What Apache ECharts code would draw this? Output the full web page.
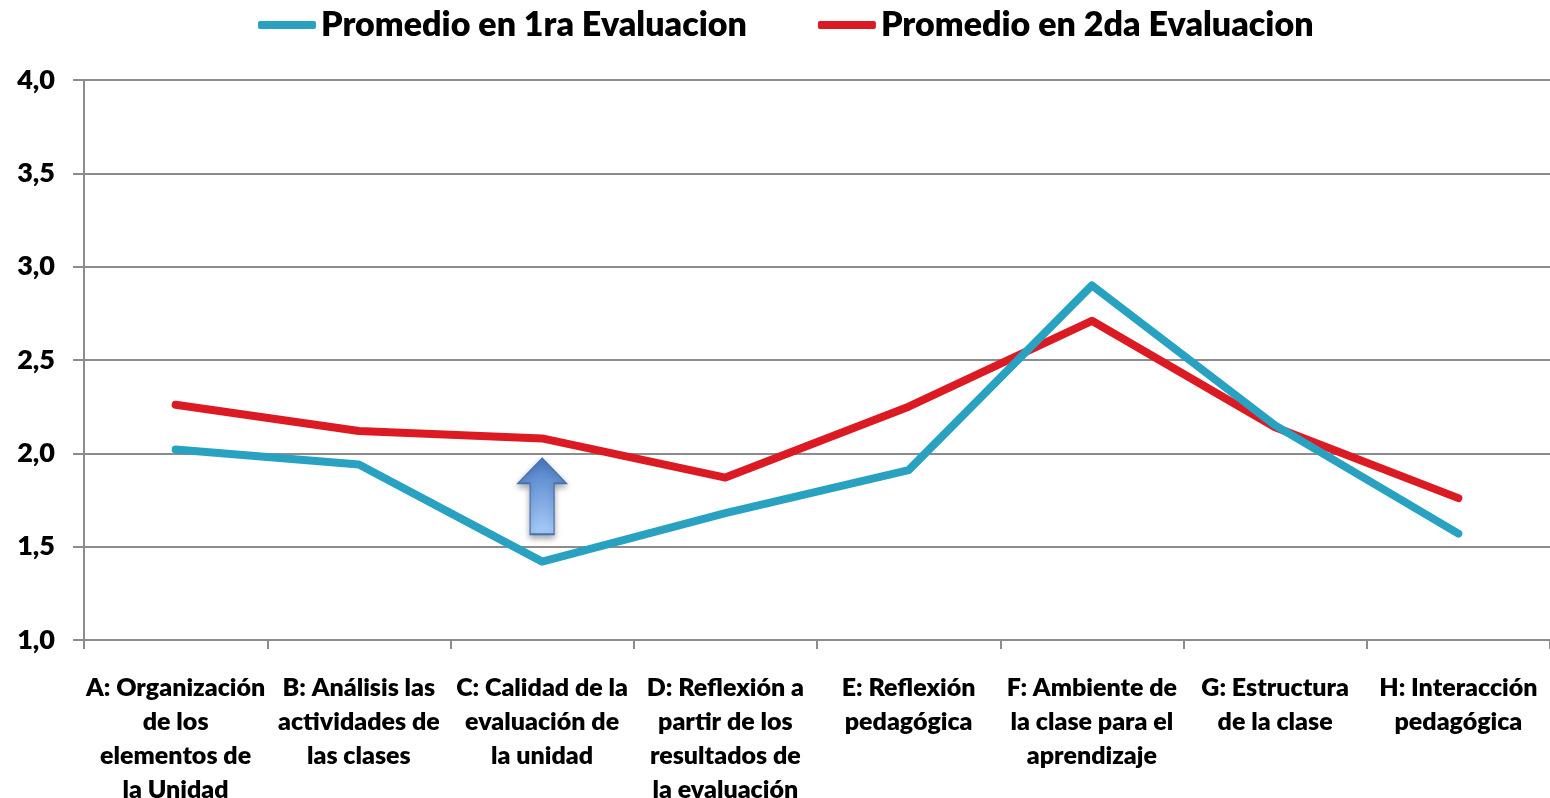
<!DOCTYPE html>
<html>
<head>
<meta charset="utf-8">
<script src="https://cdn.jsdelivr.net/npm/echarts@6/dist/echarts.min.js"></script>
<style>
  html, body { margin: 0; padding: 0; background: #fff; }
  #chart { width: 1550px; height: 798px; }
</style>
</head>
<body>
<div id="chart"></div>
<script>
var categories = [
    'A: Organización\nde los\nelementos de\nla Unidad',
    'B: Análisis las\nactividades de\nlas clases',
    'C: Calidad de la\nevaluación de\nla unidad',
    'D: Reflexión a\npartir de los\nresultados de\nla evaluación',
    'E: Reflexión\npedagógica',
    'F: Ambiente de\nla clase para el\naprendizaje',
    'G: Estructura\nde la clase',
    'H: Interacción\npedagógica'
];
var seriesNames = ['Promedio en 1ra Evaluacion', 'Promedio en 2da Evaluacion'];
var eval1 = [2.02, 1.94, 1.42, 1.68, 1.91, 2.90, 2.15, 1.57];
var eval2 = [2.26, 2.12, 2.08, 1.87, 2.25, 2.71, 2.14, 1.76];
var yTicks = [1.0, 1.5, 2.0, 2.5, 3.0, 3.5, 4.0];
// up arrow drawn over category C
var arrowAt = [2, 1.77];

var font = 'Lato, "Open Sans", sans-serif';
var weight = 800;

function initializeChart() {
    var dom = document.getElementById('chart');
    var myChart = echarts.init(dom);

    var option = {
        animation: false,
        legend: {
            top: 8,
            left: 258,
            padding: 0,
            itemGap: 71,
            itemWidth: 58,
            itemHeight: 8,
            icon: 'roundRect',
            textStyle: { fontFamily: font, fontWeight: weight, fontSize: 34, color: '#000' },
            data: seriesNames
        },
        grid: { left: 84, right: 0, top: 80, bottom: 158, outerBoundsMode: 'none', containLabel: false },
        xAxis: {
            type: 'category',
            data: categories,
            boundaryGap: true,
            axisLine: { lineStyle: { color: '#8c8c8c', width: 2 } },
            axisTick: { show: true, length: 9, lineStyle: { color: '#8c8c8c', width: 2 } },
            axisLabel: {
                interval: 0,
                margin: 31,
                color: '#000',
                fontFamily: font,
                fontWeight: weight,
                fontSize: 25,
                lineHeight: 34
            }
        },
        yAxis: {
            type: 'value',
            min: yTicks[0],
            max: yTicks[yTicks.length - 1],
            interval: 0.5,
            axisLine: { show: true, lineStyle: { color: '#8c8c8c', width: 2 } },
            axisTick: { show: true, length: 11, lineStyle: { color: '#8c8c8c', width: 2 } },
            splitLine: { lineStyle: { color: '#8c8c8c', width: 2 } },
            axisLabel: {
                margin: 29,
                color: '#000',
                fontFamily: font,
                fontWeight: weight,
                fontSize: 27,
                formatter: function (v) { return v.toFixed(1).replace('.', ','); }
            }
        },
        series: [
            {
                name: seriesNames[0],
                type: 'line',
                data: eval1,
                showSymbol: false,
                color: '#29a2c1',
                lineStyle: { width: 8, cap: 'round', join: 'round' },
                z: 3,
                markPoint: {
                    silent: true,
                    symbol: 'path://M24,0 L48,25 L36,25 L36,76 L12,76 L12,25 L0,25 Z',
                    symbolSize: [48, 76],
                    label: { show: false },
                    itemStyle: {
                        color: new echarts.graphic.LinearGradient(0, 0, 0, 1, [
                            { offset: 0, color: '#4a7cc6' },
                            { offset: 1, color: '#a9cdf9' }
                        ]),
                        borderColor: '#4572b5',
                        borderWidth: 1.5,
                        shadowColor: 'rgba(0,0,0,0.35)',
                        shadowBlur: 6,
                        shadowOffsetY: 3
                    },
                    data: [{ coord: arrowAt }]
                }
            },
            {
                name: seriesNames[1],
                type: 'line',
                data: eval2,
                showSymbol: false,
                color: '#db1a24',
                lineStyle: { width: 8, cap: 'round', join: 'round' },
                z: 2
            }
        ]
    };

    myChart.setOption(option);
    window.addEventListener('resize', myChart.resize);
}

initializeChart();
</script>
</body>
</html>
